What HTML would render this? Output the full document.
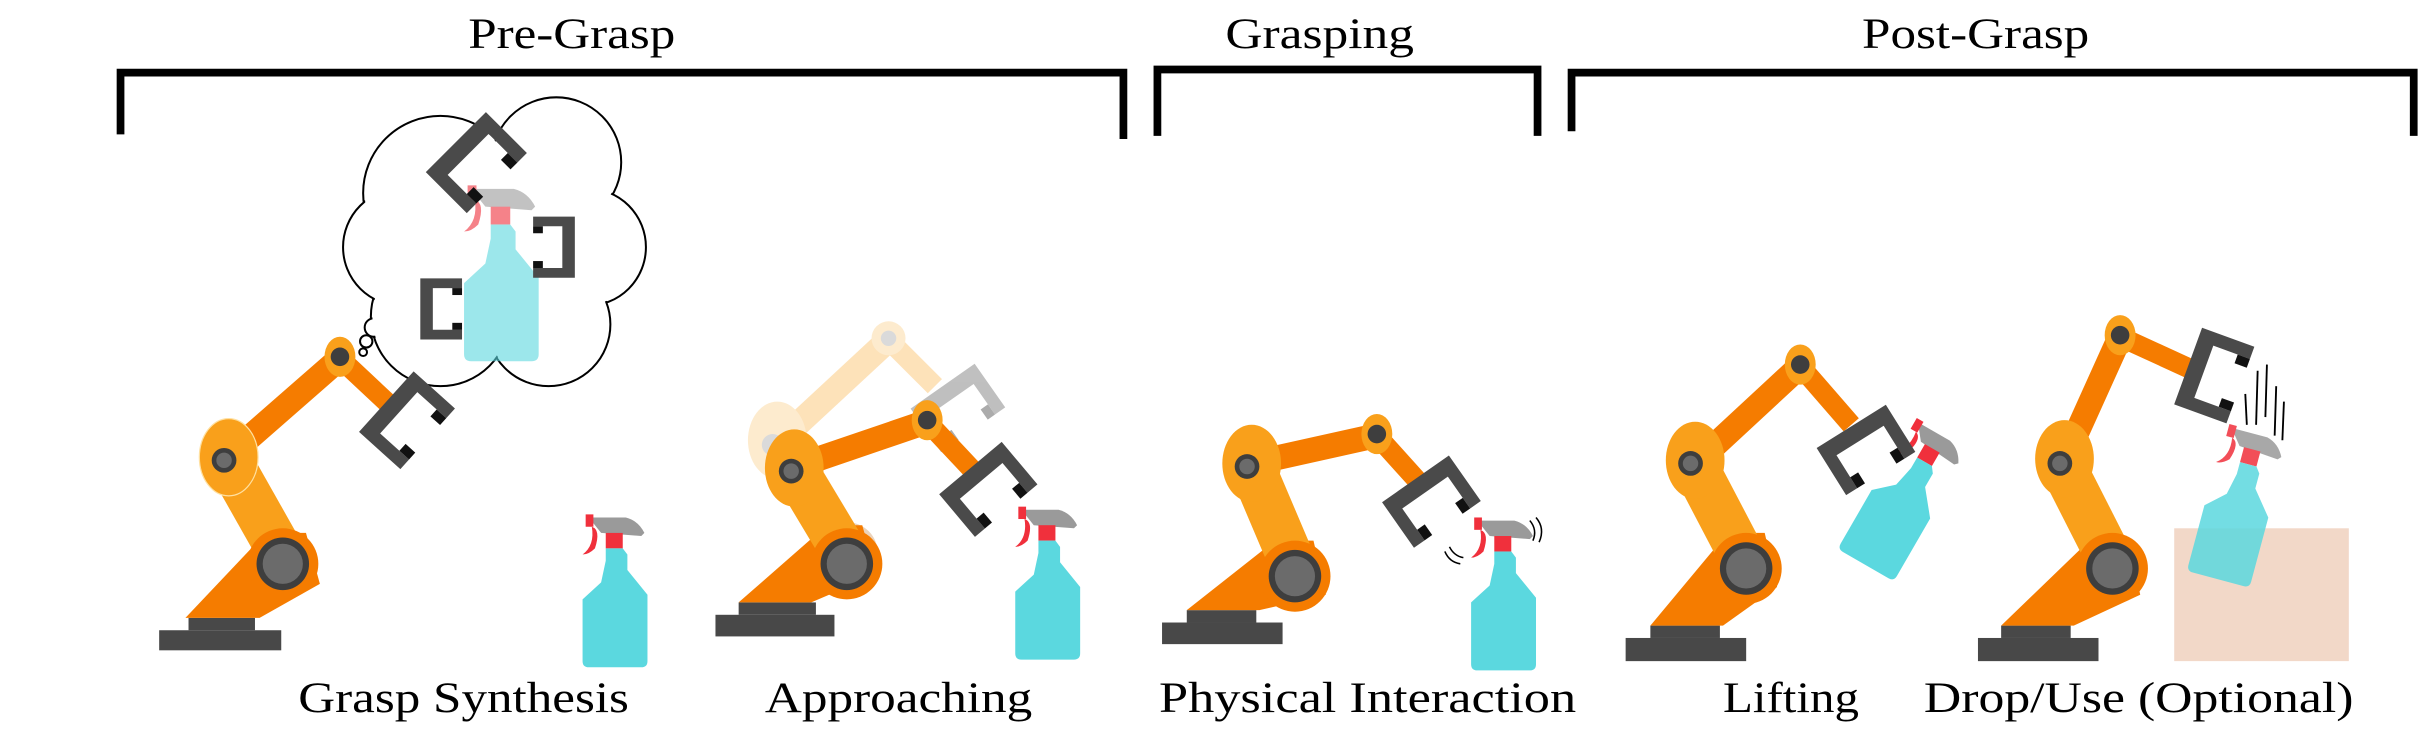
<!DOCTYPE html>
<html><head><meta charset="utf-8"><style>html,body{margin:0;padding:0;background:#fff}svg{display:block}</style></head>
<body>
<svg width="2423" height="743" viewBox="0 0 1568 481" preserveAspectRatio="none" xmlns="http://www.w3.org/2000/svg" font-family="'Liberation Serif', serif">
<defs>
<g id="grip">
 <path d="M0,-22 H30 V-15 H9 V15 H30 V22 H0 Z" fill="#4a4a4a"/>
 <rect x="23" y="-15" width="7" height="5" fill="#111"/>
 <rect x="23" y="10" width="7" height="5" fill="#111"/>
</g>
<g id="bottle">
 <path d="M6,2 L30,2 Q38,4 42,12 L40,14 L14,12 Z" fill="#9a9a9a"/>
 <rect x="4" y="0" width="5" height="8" fill="#f0303c"/>
 <path d="M8,8 Q14,10 10,22 Q6,26 2,26 Q10,20 8,8 Z" fill="#f0303c"/>
 <rect x="17" y="12" width="11" height="10" fill="#f0303c"/>
 <path d="M17,22 H28 L31,26 V36 L44,52 V95 Q44,99 40,99 H6 Q2,99 2,95 V55 L14,44 L17,30 Z" fill="#5bd8df"/>
</g>
</defs>

<g stroke="#000" stroke-width="5" fill="none">
 <path d="M78,87 V47 H727 V90"/>
 <path d="M749,88 V45 H995 V88"/>
 <path d="M1017,85 V47 H1562 V88"/>
</g>
<g font-size="28" fill="#000">
 <text x="303" y="31" textLength="134" lengthAdjust="spacingAndGlyphs">Pre-Grasp</text>
 <text x="793" y="31" textLength="122" lengthAdjust="spacingAndGlyphs">Grasping</text>
 <text x="1205" y="31" textLength="147" lengthAdjust="spacingAndGlyphs">Post-Grasp</text>
 <text x="193" y="461" textLength="214" lengthAdjust="spacingAndGlyphs">Grasp Synthesis</text>
 <text x="495" y="461" textLength="173" lengthAdjust="spacingAndGlyphs">Approaching</text>
 <text x="750" y="461" textLength="270" lengthAdjust="spacingAndGlyphs">Physical Interaction</text>
 <text x="1115" y="461" textLength="88" lengthAdjust="spacingAndGlyphs">Lifting</text>
 <text x="1245" y="461" textLength="278" lengthAdjust="spacingAndGlyphs">Drop/Use (Optional)</text>
</g>

<g stroke="#000" stroke-width="1.3" fill="#fff">
 <circle cx="285" cy="125" r="50"/><circle cx="360" cy="105" r="42"/><circle cx="380" cy="160" r="38"/>
 <circle cx="355" cy="210" r="40"/><circle cx="285" cy="205" r="45"/><circle cx="260" cy="160" r="38"/>
 <circle cx="242" cy="212" r="6"/><circle cx="237" cy="221" r="4"/><circle cx="235" cy="228" r="2.5"/>
</g>
<g fill="#fff">
 <circle cx="285" cy="125" r="49"/><circle cx="360" cy="105" r="41"/><circle cx="380" cy="160" r="37"/>
 <circle cx="355" cy="210" r="39"/><circle cx="285" cy="205" r="44"/><circle cx="260" cy="160" r="37"/>
 <circle cx="320" cy="165" r="50"/>
</g>
<g opacity="0.6"><use href="#bottle" transform="translate(298,120) scale(1.15)"/></g>
<use href="#grip" transform="translate(295,92) rotate(45) scale(1.25)"/>
<use href="#grip" transform="translate(372,160) rotate(180) scale(0.9)"/>
<use href="#grip" transform="translate(272,200) scale(0.9)"/>

<g>
 <rect x="103" y="408" width="79" height="13" fill="#484848"/><rect x="122" y="400" width="43" height="8" fill="#484848"/>
 <polygon points="120,400 168,400 207,378 198,345 172,345" fill="#f57c00"/>
 <line x1="183" y1="360" x2="148" y2="298" stroke="#f9a01b" stroke-width="30"/>
 <line x1="148" y1="295" x2="220" y2="232" stroke="#f57c00" stroke-width="16"/>
 <line x1="220" y1="232" x2="252" y2="262" stroke="#f57c00" stroke-width="13"/>
 <circle cx="183" cy="365" r="23" fill="#f57c00"/><circle cx="183" cy="365" r="17" fill="#3e3e3e"/><circle cx="183" cy="365" r="13" fill="#6b6b6b"/>
 <ellipse cx="148" cy="296" rx="19" ry="25" fill="#f9a01b" stroke="#ffe0a0" stroke-width="0.8"/><circle cx="145" cy="298" r="8" fill="#3e3e3e"/><circle cx="145" cy="298" r="5" fill="#6b6b6b"/>
 <ellipse cx="220" cy="231" rx="10" ry="13" fill="#f9a01b"/><circle cx="220" cy="231" r="6" fill="#3e3e3e"/>
 <use href="#grip" transform="translate(250,260) rotate(42) scale(1.2)"/>
</g>
<use href="#bottle" transform="translate(375,333)"/>

<g opacity="0.3">
 <line x1="548" y1="360" x2="505" y2="288" stroke="#f9a01b" stroke-width="30"/>
 <line x1="505" y1="285" x2="575" y2="220" stroke="#f9a01b" stroke-width="16"/>
 <line x1="575" y1="220" x2="605" y2="250" stroke="#f9a01b" stroke-width="13"/>
 <ellipse cx="503" cy="285" rx="19" ry="25" fill="#f9c060"/><circle cx="500" cy="288" r="7" fill="#888"/>
 <circle cx="575" cy="219" r="11" fill="#f9c060"/><circle cx="575" cy="219" r="5" fill="#888"/>
 <circle cx="548" cy="358" r="20" fill="#c07020"/>
</g>
<use href="#grip" transform="translate(610,250) rotate(55) scale(1.15)" opacity="0.35"/>
<g>
 <rect x="463" y="398" width="77" height="14" fill="#484848"/><rect x="478" y="390" width="50" height="8" fill="#484848"/>
 <polygon points="478,390 525,390 567,372 558,340 535,340" fill="#f57c00"/>
 <line x1="548" y1="360" x2="515" y2="305" stroke="#f9a01b" stroke-width="30"/>
 <line x1="515" y1="302" x2="600" y2="273" stroke="#f57c00" stroke-width="16"/>
 <line x1="600" y1="273" x2="630" y2="305" stroke="#f57c00" stroke-width="13"/>
 <circle cx="548" cy="365" r="23" fill="#f57c00"/><circle cx="548" cy="365" r="17" fill="#3e3e3e"/><circle cx="548" cy="365" r="13" fill="#6b6b6b"/>
 <ellipse cx="514" cy="303" rx="19" ry="25" fill="#f9a01b"/><circle cx="512" cy="305" r="8" fill="#3e3e3e"/><circle cx="512" cy="305" r="5" fill="#6b6b6b"/>
 <ellipse cx="600" cy="272" rx="10" ry="13" fill="#f9a01b"/><circle cx="600" cy="272" r="6" fill="#3e3e3e"/>
 <use href="#grip" transform="translate(628,303) rotate(50) scale(1.2)"/>
</g>
<use href="#bottle" transform="translate(655,328)"/>

<g>
 <rect x="752" y="403" width="78" height="14" fill="#484848"/><rect x="768" y="395" width="45" height="8" fill="#484848"/>
 <polygon points="768,395 815,395 858,385 850,350 825,350" fill="#f57c00"/>
 <line x1="838" y1="368" x2="810" y2="302" stroke="#f9a01b" stroke-width="30"/>
 <line x1="810" y1="300" x2="891" y2="282" stroke="#f57c00" stroke-width="16"/>
 <line x1="891" y1="282" x2="918" y2="312" stroke="#f57c00" stroke-width="13"/>
 <circle cx="838" cy="373" r="23" fill="#f57c00"/><circle cx="838" cy="373" r="17" fill="#3e3e3e"/><circle cx="838" cy="373" r="13" fill="#6b6b6b"/>
 <ellipse cx="810" cy="300" rx="19" ry="25" fill="#f9a01b"/><circle cx="807" cy="302" r="8" fill="#3e3e3e"/><circle cx="807" cy="302" r="5" fill="#6b6b6b"/>
 <ellipse cx="891" cy="281" rx="10" ry="13" fill="#f9a01b"/><circle cx="891" cy="281" r="6" fill="#3e3e3e"/>
 <use href="#grip" transform="translate(916,310) rotate(55) scale(1.2)"/>
</g>
<use href="#bottle" transform="translate(950,335)"/>
<g stroke="#000" stroke-width="1" fill="none">
 <path d="M990,337 Q995,343 992,350"/><path d="M994,335 Q1000,342 996,351"/>
 <path d="M938,354 Q941,360 947,361"/><path d="M935,357 Q938,364 945,365"/>
</g>

<g>
 <rect x="1052" y="413" width="78" height="15" fill="#484848"/><rect x="1068" y="405" width="45" height="8" fill="#484848"/>
 <polygon points="1068,405 1115,405 1150,380 1142,345 1118,345" fill="#f57c00"/>
 <line x1="1130" y1="365" x2="1097" y2="302" stroke="#f9a01b" stroke-width="30"/>
 <line x1="1097" y1="300" x2="1165" y2="237" stroke="#f57c00" stroke-width="16"/>
 <line x1="1165" y1="237" x2="1198" y2="275" stroke="#f57c00" stroke-width="13"/>
 <circle cx="1130" cy="368" r="23" fill="#f57c00"/><circle cx="1130" cy="368" r="17" fill="#3e3e3e"/><circle cx="1130" cy="368" r="13" fill="#6b6b6b"/>
 <ellipse cx="1097" cy="298" rx="19" ry="25" fill="#f9a01b"/><circle cx="1094" cy="300" r="8" fill="#3e3e3e"/><circle cx="1094" cy="300" r="5" fill="#6b6b6b"/>
 <ellipse cx="1165" cy="236" rx="10" ry="13" fill="#f9a01b"/><circle cx="1165" cy="236" r="6" fill="#3e3e3e"/>
</g>
<use href="#bottle" transform="translate(1250,290) rotate(30) translate(-22,-12)"/>
<use href="#grip" transform="translate(1198,276) rotate(58) scale(1.2)"/>

<rect x="1407" y="342" width="113" height="86" fill="#f2d8c8"/>
<g>
 <rect x="1280" y="413" width="78" height="15" fill="#484848"/><rect x="1295" y="405" width="45" height="8" fill="#484848"/>
 <polygon points="1295,405 1342,405 1385,385 1378,350 1352,350" fill="#f57c00"/>
 <line x1="1367" y1="365" x2="1335" y2="302" stroke="#f9a01b" stroke-width="30"/>
 <line x1="1335" y1="300" x2="1372" y2="218" stroke="#f57c00" stroke-width="16"/>
 <line x1="1372" y1="218" x2="1420" y2="240" stroke="#f57c00" stroke-width="13"/>
 <circle cx="1367" cy="368" r="23" fill="#f57c00"/><circle cx="1367" cy="368" r="17" fill="#3e3e3e"/><circle cx="1367" cy="368" r="13" fill="#6b6b6b"/>
 <ellipse cx="1336" cy="297" rx="19" ry="25" fill="#f9a01b"/><circle cx="1333" cy="300" r="8" fill="#3e3e3e"/><circle cx="1333" cy="300" r="5" fill="#6b6b6b"/>
 <ellipse cx="1372" cy="217" rx="10" ry="13" fill="#f9a01b"/><circle cx="1372" cy="217" r="6" fill="#3e3e3e"/>
 <use href="#grip" transform="translate(1416,237) rotate(20) scale(1.2)"/>
</g>
<g opacity="0.85"><use href="#bottle" transform="translate(1448,278) rotate(15) translate(-10,-2)"/></g>
<g stroke="#000" stroke-width="1.2">
 <line x1="1453" y1="255" x2="1454" y2="275"/><line x1="1461" y1="240" x2="1460" y2="275"/>
 <line x1="1467" y1="236" x2="1466" y2="270"/><line x1="1473" y1="250" x2="1472" y2="282"/>
 <line x1="1478" y1="260" x2="1477" y2="285"/>
</g>
</svg>
</body></html>
